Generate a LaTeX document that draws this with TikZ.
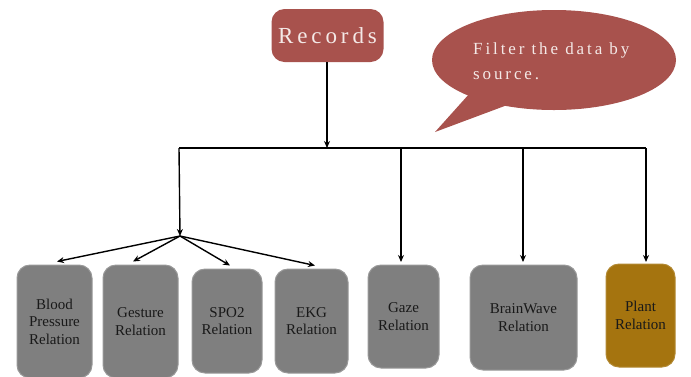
\documentclass[tikz,border=0pt]{standalone}
\usepackage{fontspec}
\setmainfont{Liberation Serif}
\newfontfamily\spacedfont[LetterSpace=17]{Liberation Serif}
\newfontfamily\bubblefont[LetterSpace=17]{Liberation Serif}
\usetikzlibrary{arrows.meta,calc}
\definecolor{recred}{HTML}{A8524D}
\definecolor{boxgray}{HTML}{7F7F7F}
\definecolor{plantgold}{HTML}{A5740F}
\definecolor{paletext}{HTML}{F4E9E7}
\begin{document}
\begin{tikzpicture}[x=1pt,y=-1pt,
  conn/.style={line width=1.4pt,-{Stealth[length=7pt,width=6pt]}},
  bar/.style={line width=1.4pt},
  relbox/.style={fill=boxgray,draw=boxgray!80!white,line width=1pt,rounded corners=13pt,
    inner sep=0pt,align=center,text=black!90,
    font=\fontsize{15}{17.5}\selectfont},
  recbox/.style={fill=recred,rounded corners=13pt,inner sep=0pt,
    minimum width=112pt,minimum height=53pt,text=paletext,
    font=\spacedfont\fontsize{23}{26}\selectfont}]
\useasboundingbox (0,0) rectangle (691,376);

% speech bubble
\fill[recred] (554,60) ellipse [x radius=122, y radius=50];
\fill[recred] (470,93) -- (435,132) -- (510,104) -- cycle;
\node[anchor=north west,text=paletext,align=left,inner sep=0pt,
  font=\bubblefont\fontsize{17}{25}\selectfont] (note) at (473,42)
  {Filter the data by\\source.};

% top node
\node[recbox] (rec) at (327.5,35.5) {Records};

% relation boxes
\node[relbox,minimum width=75pt,minimum height=113pt] (bp) at (54.5,321.5) {Blood\\Pressure\\Relation};
\node[relbox,minimum width=75pt,minimum height=113pt] (ges) at (140.5,321.5) {Gesture\\Relation};
\node[relbox,minimum width=70pt,minimum height=104pt] (spo) at (227,321) {SPO2\\Relation};
\node[relbox,minimum width=73pt,minimum height=104pt] (ekg) at (311.5,321) {EKG\\Relation};
\node[relbox,minimum width=71pt,minimum height=103pt] (gaze) at (403.5,316.5) {Gaze\\Relation};
\node[relbox,minimum width=107pt,minimum height=105pt] (bw) at (523.5,317.5) {BrainWave\\Relation};
\node[relbox,fill=plantgold,draw=plantgold!85!white,minimum width=69pt,minimum height=103pt] (plant) at (640.5,315.5) {Plant\\Relation};

% distribution bar
\coordinate (barL) at (179,148);
\coordinate (barR) at (646,148);
\coordinate (barM) at (327,148);
\coordinate (fork) at (180,236);
\draw[bar] (barL) -- (barR);
\draw[conn] (rec.south -| barM) -- (barM);
\draw[conn] (barL) -- (fork);

% fan-out to the sensor relations
\draw[conn] (fork) -- ($(bp.north)+(2.5,-3)$);
\draw[conn] (fork) -- ($(ges.north)+(-7.5,-3)$);
\draw[conn] (fork) -- ($(spo.north)+(3,-3)$);
\draw[conn] (fork) -- ($(ekg.north)+(3.5,-3)$);

% direct drops
\draw[conn] (401,148) -- (401,262);
\draw[conn] (523,148) -- (523,262);
\draw[conn] (barR) -- (646,262);
\end{tikzpicture}
\end{document}
